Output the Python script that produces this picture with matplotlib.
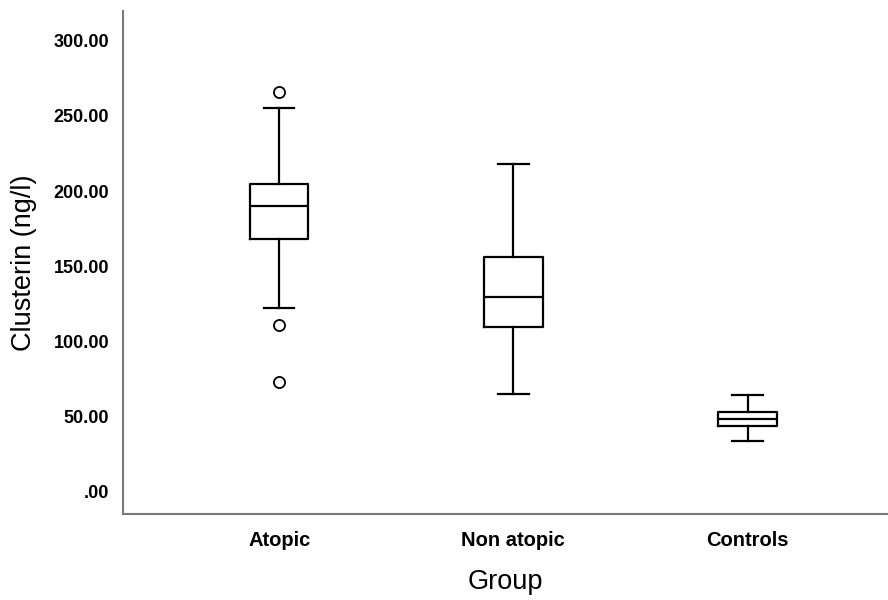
import matplotlib
matplotlib.use("Agg")
import matplotlib.pyplot as plt

plt.rcParams['font.family'] = ['Liberation Sans', 'DejaVu Sans']

# 数据
groups = ["Atopic", "Non atopic", "Controls"]
whislo = [122, 64.7, 33.5]
q1 = [168, 109.5, 43.3]
med = [190, 129.5, 48]
q3 = [205, 156, 52.7]
whishi = [255, 218, 64]
fliers = [[266, 111, 73], [], []]
yticks = [0, 50, 100, 150, 200, 250, 300]

stats = []
for i, g in enumerate(groups):
    stats.append(dict(label=g, whislo=whislo[i], q1=q1[i], med=med[i],
                      q3=q3[i], whishi=whishi[i], fliers=fliers[i]))

fig = plt.figure(figsize=(8.88, 6), dpi=100)
ax = fig.add_axes([0.1385, 0.1433, 0.8615, 0.8384])

lw = 1.6
ax.bxp(stats, positions=range(len(groups)), widths=0.25, patch_artist=False,
       boxprops=dict(color='black', linewidth=lw),
       medianprops=dict(color='black', linewidth=lw),
       whiskerprops=dict(color='black', linewidth=lw),
       capprops=dict(color='black', linewidth=lw),
       capwidths=0.13,
       flierprops=dict(marker='o', markersize=8, markerfacecolor='white',
                       markeredgecolor='black', markeredgewidth=1.3))

ax.set_xlim(-0.667, 2.6)
ax.set_ylim(-15.3, 320)
ax.set_yticks(yticks)
ax.set_yticklabels([".00" if v == 0 else f"{v:.2f}" for v in yticks],
                   fontsize=13, fontweight='bold')
ax.set_xticks(range(len(groups)))
ax.set_xticklabels(groups, fontsize=14.5, fontweight='bold')
ax.tick_params(axis='y', length=0, pad=10)
ax.tick_params(axis='x', length=0, pad=12)

for s in ['top', 'right']:
    ax.spines[s].set_visible(False)
for s in ['left', 'bottom']:
    ax.spines[s].set_color('#777777')
    ax.spines[s].set_linewidth(1.5)

ax.set_ylabel("Clusterin (ng/l)", fontsize=19.5, labelpad=12)
ax.set_xlabel("Group", fontsize=19.5, labelpad=14)

fig.savefig("out.png", dpi=100)
